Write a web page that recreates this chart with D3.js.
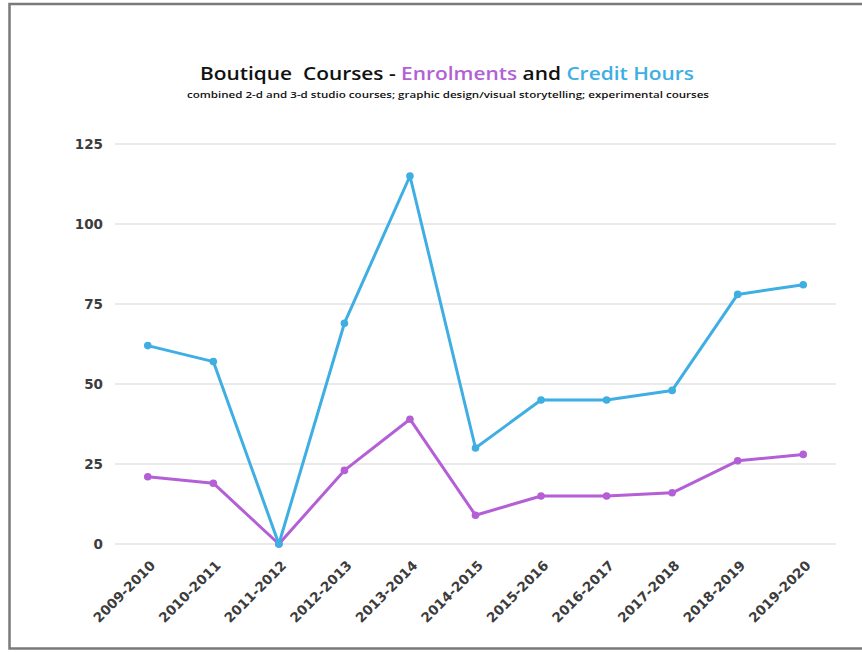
<!DOCTYPE html>
<html>
<head>
<meta charset="utf-8">
<script src="https://cdn.jsdelivr.net/npm/d3@7"></script>
<style>
  body { margin: 0; background: #fff; }
  svg { display: block; }
</style>
</head>
<body>
<script>
// chart data
const years = ['2009-2010', '2010-2011', '2011-2012', '2012-2013', '2013-2014', '2014-2015',
               '2015-2016', '2016-2017', '2017-2018', '2018-2019', '2019-2020'];
const creditHours = [62, 57, 0, 69, 115, 30, 45, 45, 48, 78, 81];
const enrolments = [21, 19, 0, 23, 39, 9, 15, 15, 16, 26, 28];
const yTicks = [0, 25, 50, 75, 100, 125];

const blue = '#3eaee3';
const purple = '#b45fd6';

let svg = d3.select('body').append('svg')
    .attr('width', 862)
    .attr('height', 652);

// frame around the picture
svg.append('path')
    .attr('d', 'M 863 4 L 9.5 4 L 9.5 648.5 L 863 648.5')
    .attr('fill', 'none')
    .attr('stroke', '#7a7a7a')
    .attr('stroke-width', 2.5);

let x = d3.scaleBand().domain(years).range([115, 836]);
let y = d3.scaleLinear().domain([0, 125]).range([544, 144]);

// grid lines
svg.append('g')
    .selectAll('line')
    .data(yTicks)
    .join('line')
    .attr('x1', 115)
    .attr('x2', 836)
    .attr('y1', d => y(d))
    .attr('y2', d => y(d))
    .attr('stroke', '#e3e3e3')
    .attr('stroke-width', 1.5);

// y axis labels
let yAxis = svg.append('g')
    .attr('transform', 'translate(103,0)')
    .call(d3.axisLeft(y).tickValues(yTicks).tickSize(0).tickPadding(0));
yAxis.select('.domain').remove();
yAxis.selectAll('text')
    .style('font-family', '"DejaVu Sans", Verdana, sans-serif')
    .style('font-size', '13.5px')
    .style('font-weight', 'bold')
    .attr('fill', '#3c3c3c');

// x axis labels
let xAxis = svg.append('g')
    .attr('transform', 'translate(0,550)')
    .call(d3.axisBottom(x).tickSize(0).tickPadding(0));
xAxis.select('.domain').remove();
xAxis.selectAll('text')
    .style('font-family', '"DejaVu Sans", Verdana, sans-serif')
    .style('font-size', '13.5px')
    .style('font-weight', 'bold')
    .attr('fill', '#3c3c3c')
    .attr('text-anchor', 'end')
    .attr('y', 0)
    .attr('dy', '0.35em')
    .attr('transform', 'translate(5,13) rotate(-45)');

function drawSeries(values, color) {
    let pts = values.map((v, i) => [x(years[i]) + x.bandwidth() / 2, y(v)]);
    svg.append('path')
        .datum(pts)
        .attr('fill', 'none')
        .attr('stroke', color)
        .attr('stroke-width', 3)
        .attr('stroke-linejoin', 'round')
        .attr('d', d3.line());
    svg.append('g')
        .selectAll('circle')
        .data(pts)
        .join('circle')
        .attr('cx', d => d[0])
        .attr('cy', d => d[1])
        .attr('r', 3.8)
        .attr('fill', color);
}

drawSeries(enrolments, purple);
drawSeries(creditHours, blue);

// title
let title = svg.append('text')
    .attr('x', 447)
    .attr('y', 80)
    .attr('text-anchor', 'middle')
    .style('font-family', '"Open Sans", sans-serif')
    .style('font-size', '18.5px')
    .style('font-weight', 600)
    .attr('textLength', 494)
    .attr('lengthAdjust', 'spacingAndGlyphs');
title.append('tspan').attr('fill', '#111').text('Boutique\u00a0 Courses - ');
title.append('tspan').attr('fill', purple).text('Enrolments');
title.append('tspan').attr('fill', '#111').text(' and ');
title.append('tspan').attr('fill', blue).text('Credit Hours');

svg.append('text')
    .attr('x', 448)
    .attr('y', 98)
    .attr('text-anchor', 'middle')
    .style('font-family', '"Open Sans", sans-serif')
    .style('font-size', '8.5px')
    .style('font-weight', 600)
    .attr('fill', '#111')
    .attr('textLength', 522)
    .attr('lengthAdjust', 'spacingAndGlyphs')
    .text('combined 2-d and 3-d studio courses; graphic design/visual storytelling; experimental courses');
</script>
</body>
</html>
